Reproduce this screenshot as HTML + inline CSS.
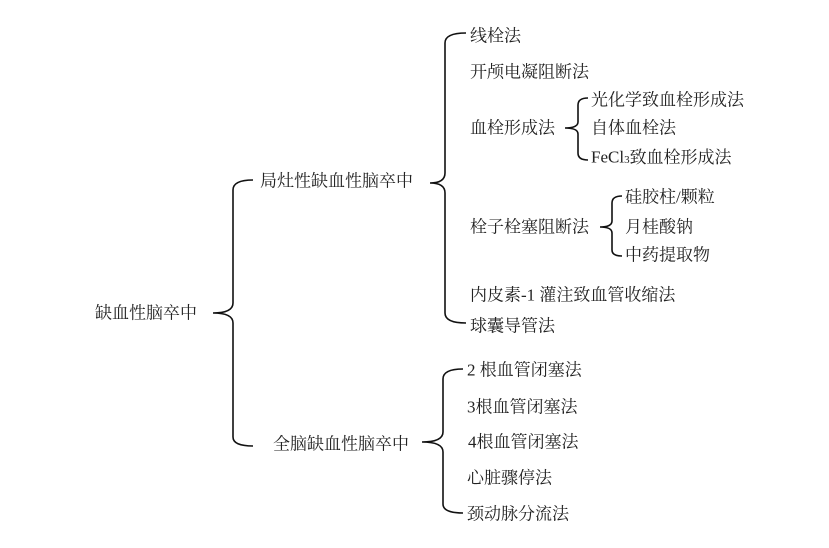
<!DOCTYPE html>
<html><head><meta charset="utf-8"><style>
body{margin:0;background:#fff;width:829px;height:543px;overflow:hidden}
svg text{font-family:"Liberation Serif","Noto Serif CJK SC","Noto Serif CJK",serif;font-size:17px;fill:#222;dominant-baseline:central}
path{fill:none;stroke:#111;stroke-width:1.6}
</style></head><body>
<svg width="829" height="543" viewBox="0 0 829 543">
<path d="M253,180 Q233,180 233,190 L233,303 Q233,313 213,313 Q233,313 233,323 L233,437 Q233,446 253,446"/>
<path d="M466,33 Q445,33 445,43 L445,173 Q445,183 430,183 Q445,183 445,193 L445,313 Q445,323 466,323"/>
<path d="M463,369 Q443,369 443,379 L443,432 Q443,442 422,442 Q443,442 443,452 L443,504 Q443,513 463,513"/>
<path d="M588,98 Q578,98 578,105 L578,122 Q578,128 565,128 Q578,128 578,134 L578,153 Q578,160 588,160"/>
<path d="M622,196 Q612,196 612,203 L612,221 Q612,227 600,227 Q612,227 612,233 L612,250 Q612,256 622,256"/>
<text x="95" y="313">缺血性脑卒中</text>
<text x="260" y="181">局灶性缺血性脑卒中</text>
<text x="273" y="444">全脑缺血性脑卒中</text>
<text x="470" y="36">线栓法</text>
<text x="470" y="72">开颅电凝阻断法</text>
<text x="470" y="128">血栓形成法</text>
<text x="470" y="227">栓子栓塞阻断法</text>
<text x="470" y="295">内皮素-1 灌注致血管收缩法</text>
<text x="470" y="326">球囊导管法</text>
<text x="591" y="100">光化学致血栓形成法</text>
<text x="591" y="128">自体血栓法</text>
<text x="591" y="157">FeCl<tspan font-size="11" dy="3">3</tspan><tspan dy="-3">致血栓形成法</tspan></text>
<text x="625" y="197">硅胶柱/颗粒</text>
<text x="625" y="227">月桂酸钠</text>
<text x="625" y="255">中药提取物</text>
<text x="467" y="370">2 根血管闭塞法</text>
<text x="467" y="407">3根血管闭塞法</text>
<text x="468" y="442">4根血管闭塞法</text>
<text x="467" y="478">心脏骤停法</text>
<text x="467" y="514">颈动脉分流法</text>
</svg>
</body></html>
